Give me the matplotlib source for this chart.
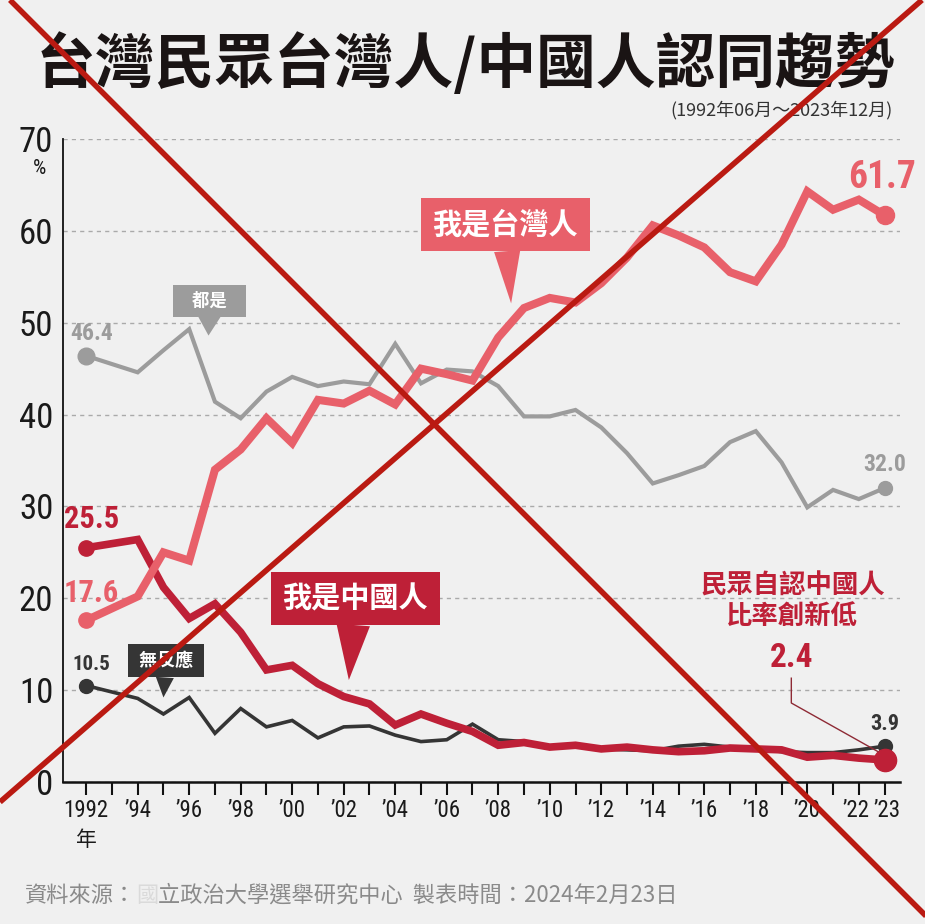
import matplotlib
matplotlib.use('Agg')
import matplotlib.pyplot as plt
from matplotlib import font_manager as fm
from matplotlib.lines import Line2D
from matplotlib.transforms import ScaledTranslation

# ---------------- data ----------------
years = [1992, 1994, 1995, 1996, 1997, 1998, 1999, 2000, 2001, 2002, 2003,
         2004, 2005, 2006, 2007, 2008, 2009, 2010, 2011, 2012, 2013, 2014,
         2015, 2016, 2017, 2018, 2019, 2020, 2021, 2022, 2023]
taiwanese = [17.6, 20.2, 25.0, 24.1, 34.0, 36.2, 39.6, 36.9, 41.6, 41.2, 42.6,
             41.1, 45.0, 44.4, 43.7, 48.4, 51.6, 52.7, 52.2, 54.3, 57.1, 60.6,
             59.5, 58.2, 55.5, 54.5, 58.5, 64.3, 62.3, 63.4, 61.7]
both = [46.4, 44.6, 47.0, 49.3, 41.4, 39.6, 42.5, 44.1, 43.1, 43.6, 43.3,
        47.7, 43.4, 44.9, 44.7, 43.1, 39.8, 39.8, 40.5, 38.6, 35.8, 32.5,
        33.4, 34.4, 37.0, 38.2, 34.8, 29.9, 31.8, 30.8, 32.0]
chinese = [25.5, 26.4, 21.2, 17.8, 19.4, 16.3, 12.2, 12.7, 10.7, 9.3, 8.5,
           6.2, 7.4, 6.4, 5.5, 4.0, 4.3, 3.8, 4.0, 3.6, 3.8, 3.5,
           3.3, 3.4, 3.7, 3.6, 3.5, 2.7, 2.9, 2.6, 2.4]
no_response = [10.5, 9.1, 7.4, 9.2, 5.3, 8.0, 6.0, 6.7, 4.8, 6.0, 6.1,
               5.1, 4.4, 4.6, 6.3, 4.6, 4.4, 3.8, 3.9, 3.6, 3.5, 3.4,
               3.9, 4.1, 3.8, 3.7, 3.3, 3.2, 3.2, 3.5, 3.9]

tick_years = [1992, 1993, 1994, 1995, 1996, 1997, 1998, 1999, 2000, 2001, 2002,
              2003, 2004, 2005, 2006, 2007, 2008, 2009, 2010, 2011, 2012, 2013,
              2014, 2015, 2016, 2017, 2018, 2019, 2020, 2021, 2022, 2023]
tick_labels = ['1992', '', '\u201994', '', '\u201996', '', '\u201998', '', '\u201900', '', '\u201902',
               '', '\u201904', '', '\u201906', '', '\u201908', '', '\u201910', '', '\u201912', '',
               '\u201914', '', '\u201916', '', '\u201918', '', '\u201920', '', '\u201922', '\u201923']
y_ticks = [0, 10, 20, 30, 40, 50, 60, 70]

title = '台灣民眾台灣人/中國人認同趨勢'
subtitle = '(1992年06月～2023年12月)'

# ---------------- fonts ----------------
CJK = 'Noto Sans CJK TC'
plt.rcParams['font.family'] = [CJK, 'DejaVu Sans']

NARROW_STRETCH = ('condensed', 'semi-condensed', 'extra-condensed', 'ultra-condensed')


def _find_narrow(bold):
    cands = []
    for f in fm.fontManager.ttflist:
        nm = f.name
        if f.style != 'normal':
            continue
        if 'Roboto Condensed' in nm:
            rank = 0
        elif 'Narrow' in nm:
            rank = 1
        elif 'Condensed' in nm and 'Open Sans' not in nm:
            rank = 2
        elif str(f.stretch) in NARROW_STRETCH:
            rank = 3
        else:
            continue
        w = f.weight if isinstance(f.weight, int) else fm.weight_dict.get(f.weight, 400)
        cands.append((rank, abs(w - (700 if bold else 400)), f.fname))
    if cands:
        return sorted(cands)[0][2]
    return None


_NR = _find_narrow(False)
_NB = _find_narrow(True)


def numfont(size, bold=False):
    fn = _NB if bold else _NR
    if fn:
        return fm.FontProperties(fname=fn, size=size)
    return fm.FontProperties(family=['Liberation Sans', 'DejaVu Sans'], size=size,
                             weight='bold' if bold else 'normal')


BG = '#F0F0F0'
PINK = '#E8606A'
DRED = '#BE2037'
GRAY = '#9C9C9C'
DARK = '#353535'
XRED = '#BA1A12'

W, H = 925, 924
fig = plt.figure(figsize=(W / 100, H / 100), dpi=100, facecolor=BG)
ax = fig.add_axes([63 / W, 1 - 782 / H, (900 - 63) / W, (782 - 139) / H])
ax.set_facecolor(BG)
ax.set_xlim(1991.1, 2023.6)
ax.set_ylim(0, 70)

for s in ['top', 'right']:
    ax.spines[s].set_visible(False)
ax.spines['left'].set_linewidth(1.3)
ax.spines['bottom'].set_linewidth(1.8)
ax.spines['left'].set_color('#111111')
ax.spines['bottom'].set_color('#111111')

ax.set_yticks(y_ticks)
ax.set_yticklabels([str(v) for v in y_ticks], fontproperties=numfont(25), color='#1a1a1a')
ax.tick_params(axis='y', length=0, pad=7)
ax.yaxis.grid(True, linestyle=(0, (3, 3)), color='#AAAAAA', linewidth=1)
ax.set_axisbelow(True)

ax.set_xticks(tick_years)
ax.set_xticklabels(tick_labels, fontproperties=numfont(16.5), color='#1a1a1a')
ax.tick_params(axis='x', length=9, width=1.5, direction='out', pad=3, color='#111111')
# nudge the two crowded final labels apart
xl = ax.get_xticklabels()
xl[-2].set_transform(xl[-2].get_transform() + ScaledTranslation(-2 / 72, 0, fig.dpi_scale_trans))
xl[-1].set_transform(xl[-1].get_transform() + ScaledTranslation(2 / 72, 0, fig.dpi_scale_trans))

# ---------------- series ----------------
ax.plot(years, no_response, color=DARK, lw=2.6, zorder=3, solid_joinstyle='miter')
ax.plot(years, both, color=GRAY, lw=3.0, zorder=3, solid_joinstyle='miter')
ax.plot(years, chinese, color=DRED, lw=5.5, zorder=4, solid_joinstyle='miter')
ax.plot(years, taiwanese, color=PINK, lw=5.8, zorder=5, solid_joinstyle='miter')

# start / end markers
ax.plot([years[0]], [no_response[0]], 'o', ms=10, color=DARK, zorder=6)
ax.plot([years[0]], [both[0]], 'o', ms=12, color=GRAY, zorder=6)
ax.plot([years[0]], [chinese[0]], 'o', ms=11, color=DRED, zorder=6)
ax.plot([years[0]], [taiwanese[0]], 'o', ms=11, color=PINK, zorder=6)
ax.plot([years[-1]], [no_response[-1]], 'o', ms=10, color=DARK, zorder=6)
ax.plot([years[-1]], [both[-1]], 'o', ms=10, color=GRAY, zorder=6)
ax.plot([years[-1]], [chinese[-1]], 'o', ms=16, color=DRED, zorder=7)
ax.plot([years[-1]], [taiwanese[-1]], 'o', ms=13, color=PINK, zorder=7)


# value labels
def vlabel(x, y, txt, dx, dy, fs, col):
    ax.annotate(txt, (x, y), xytext=(dx, dy), textcoords='offset points',
                ha='center', va='center', color=col,
                fontproperties=numfont(fs, True), zorder=8)


vlabel(years[0], both[0], f'{both[0]:.1f}', 4, 16, 17, GRAY)
vlabel(years[0], chinese[0], f'{chinese[0]:.1f}', 4, 21, 22, DRED)
vlabel(years[0], taiwanese[0], f'{taiwanese[0]:.1f}', 4, 20, 22, PINK)
vlabel(years[0], no_response[0], f'{no_response[0]:.1f}', 4, 15, 15, DARK)
vlabel(years[-1], taiwanese[-1], f'{taiwanese[-1]:.1f}', -2, 27, 27, PINK)
vlabel(years[-1], both[-1], f'{both[-1]:.1f}', 0, 17, 17, GRAY)
vlabel(years[-1], no_response[-1], f'{no_response[-1]:.1f}', 0, 16, 16, DARK)


# speech-bubble labels
def bubble(txt, tip, center, fs, col, tw):
    ax.annotate(txt, xy=tip, xytext=center, ha='center', va='center',
                fontsize=fs, color='white', fontweight='bold', zorder=9,
                bbox=dict(boxstyle='square,pad=0.4', fc=col, ec='none'),
                arrowprops=dict(arrowstyle=f'wedge,tail_width={tw}', fc=col,
                                ec='none', shrinkA=0, shrinkB=0))


bubble('我是台灣人', (2008.5, 52.1), (2008.27, 60.7), 21, PINK, 0.9)
bubble('   都是   ', (1996.75, 48.6), (1996.8, 52.4), 12.5, GRAY, 1.3)
bubble('我是中國人', (2002.2, 11.1), (2002.45, 20.0), 21, DRED, 1.15)
bubble(' 無反應 ', (1995.0, 9.2), (1995.1, 13.2), 13, DARK, 1.0)

# record-low annotation
ax.text(2019.42, 19.7, '民眾自認中國人\n比率創新低', ha='center', va='center',
        fontsize=19, color=DRED, fontweight='bold', linespacing=1.15, zorder=8)
ax.text(2019.38, 13.5, f'{chinese[-1]:.1f}', ha='center', va='center',
        color=DRED, fontproperties=numfont(24, True), zorder=8)
ax.plot([2019.38, 2019.38, years[-1] - 0.25], [11.3, 8.6, chinese[-1] + 0.9],
        color='#8E2A35', lw=1.0, zorder=8)

# ---------------- texts ----------------
fig.text(465 / W, 1 - 65 / H, title, ha='center', va='center', fontsize=43,
         fontweight='black', color='#1a1414')
fig.text(893 / W, 1 - 110 / H, subtitle, ha='right', va='center', fontsize=13,
         color='#333333')
fig.text(40 / W, 1 - 168 / H, '%', ha='center', va='center',
         fontproperties=numfont(15), color='#1a1a1a')
fig.text(86 / W, 1 - 840 / H, '年', ha='center', va='center', fontsize=15,
         color='#1a1a1a')

# footer with blurred character
fy = 1 - 895 / H
t1 = fig.text(25 / W, fy, '資料來源：', ha='left', va='center', fontsize=16, color='#8a8a8a')
fig.canvas.draw()
r = fig.canvas.get_renderer()
x1 = t1.get_window_extent(r).x1 / W
t2 = fig.text(x1, fy, '國', ha='left', va='center', fontsize=16, color='#dadada')
x2 = t2.get_window_extent(r).x1 / W
fig.text(x2, fy, '立政治大學選舉研究中心  製表時間：2024年2月23日', ha='left',
         va='center', fontsize=16, color='#8a8a8a')

# ---------------- red X overlay ----------------
fig.add_artist(Line2D([10 / W, 934 / W], [1.0, 0.0], transform=fig.transFigure,
                      color=XRED, lw=4, zorder=100, solid_capstyle='butt'))
fig.add_artist(Line2D([922 / W, 0.0], [1.0, 1 - 802 / H], transform=fig.transFigure,
                      color=XRED, lw=4, zorder=100, solid_capstyle='butt'))

fig.savefig('out.png', dpi=100, facecolor=BG)
